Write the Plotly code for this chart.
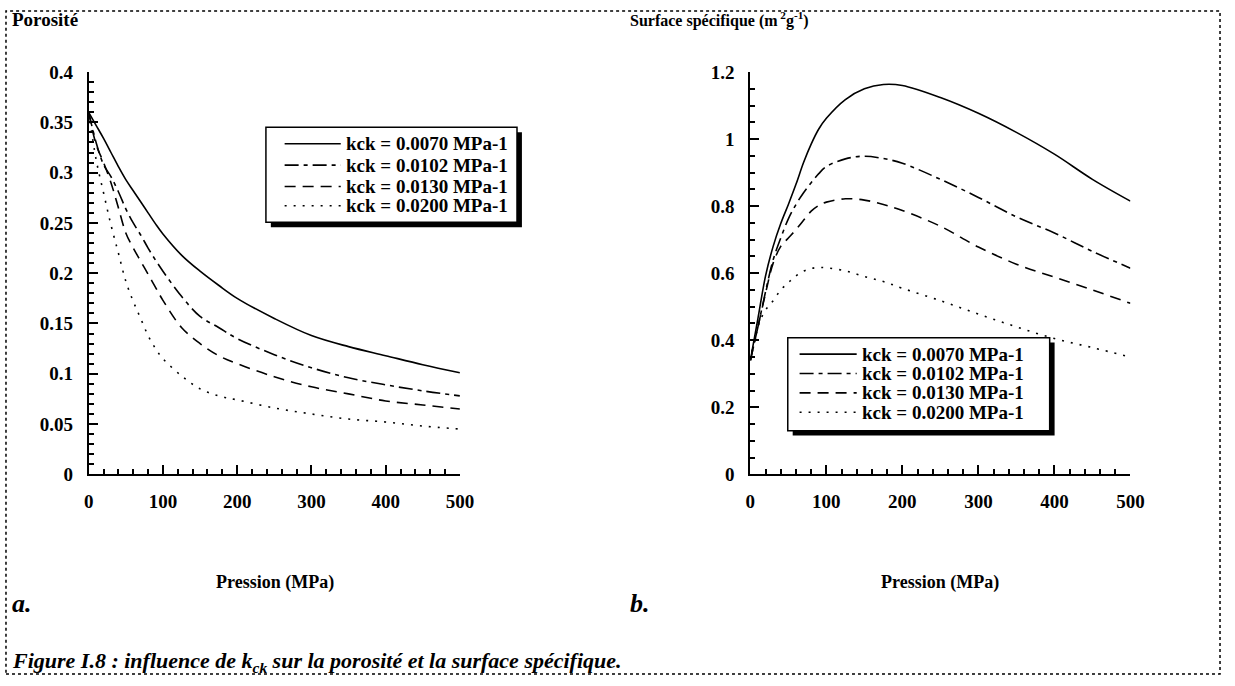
# Influence de kck sur la porosité et la surface spécifique (figure I.8)
import plotly.graph_objects as go

# ── DATA ────────────────────────────────────────────────────
pression = [0, 10, 20, 30, 40, 50, 60, 70, 80, 90, 100,
            125, 150, 175, 200, 250, 300, 350, 400, 450, 500]

kck_labels = ["kck = 0.0070 MPa-1", "kck = 0.0102 MPa-1",
              "kck = 0.0130 MPa-1", "kck = 0.0200 MPa-1"]

# porosité (fig. a)
poro_0070 = [0.360, 0.347, 0.334, 0.320, 0.306, 0.293, 0.282, 0.271, 0.260, 0.249, 0.239,
             0.218, 0.202, 0.188, 0.175, 0.155, 0.138, 0.127, 0.118, 0.109, 0.101]
poro_0102 = [0.360, 0.330, 0.308, 0.296, 0.281, 0.264, 0.250, 0.238, 0.225, 0.213, 0.202,
             0.177, 0.157, 0.146, 0.135, 0.119, 0.106, 0.096, 0.089, 0.083, 0.078]
poro_0130 = [0.360, 0.328, 0.310, 0.290, 0.265, 0.240, 0.225, 0.212, 0.199, 0.186, 0.173,
             0.146, 0.130, 0.118, 0.110, 0.097, 0.087, 0.080, 0.073, 0.069, 0.065]
poro_0200 = [0.360, 0.313, 0.280, 0.248, 0.220, 0.192, 0.172, 0.155, 0.138, 0.125, 0.115,
             0.098, 0.085, 0.078, 0.074, 0.066, 0.060, 0.055, 0.052, 0.048, 0.045]

# surface spécifique (fig. b)
surf_0070 = [0.340, 0.465, 0.592, 0.680, 0.748, 0.805, 0.865, 0.930, 0.985, 1.030, 1.062,
             1.118, 1.150, 1.163, 1.160, 1.124, 1.077, 1.020, 0.955, 0.880, 0.815]
surf_0102 = [0.340, 0.440, 0.545, 0.640, 0.705, 0.762, 0.805, 0.840, 0.870, 0.897, 0.918,
             0.941, 0.949, 0.942, 0.928, 0.880, 0.826, 0.768, 0.720, 0.665, 0.615]
surf_0130 = [0.340, 0.440, 0.540, 0.630, 0.680, 0.705, 0.730, 0.758, 0.785, 0.802, 0.812,
             0.822, 0.818, 0.805, 0.787, 0.740, 0.678, 0.627, 0.588, 0.550, 0.510]
surf_0200 = [0.340, 0.442, 0.490, 0.518, 0.550, 0.572, 0.592, 0.606, 0.614, 0.617, 0.616,
             0.607, 0.590, 0.575, 0.555, 0.518, 0.478, 0.440, 0.405, 0.378, 0.350]

# ── STYLE ───────────────────────────────────────────────────
W, H = 1235, 686
FONT = "Liberation Serif"
dashes = ["solid", "14px,5px,4px,5px", "11px,7px", "2px,7px"]

def px(x):  return x / W
def py(y):  return 1 - y / H

fig = go.Figure()

poro = [poro_0070, poro_0102, poro_0130, poro_0200]
surf = [surf_0070, surf_0102, surf_0130, surf_0200]

for i, lab in enumerate(kck_labels):
    fig.add_trace(go.Scatter(x=pression, y=poro[i], mode="lines", name=lab, showlegend=False,
                             line=dict(color="black", width=1.6, dash=dashes[i], shape="spline"),
                             xaxis="x", yaxis="y"))
for i, lab in enumerate(kck_labels):
    fig.add_trace(go.Scatter(x=pression, y=surf[i], mode="lines", name=lab, showlegend=False,
                             line=dict(color="black", width=1.6, dash=dashes[i], shape="spline"),
                             xaxis="x2", yaxis="y2"))

tickfont = dict(family=FONT, size=19, color="black", weight="bold")
common = dict(showline=True, linecolor="black", linewidth=2, showgrid=False, zeroline=False,
              ticks="inside", ticklen=9, tickwidth=2, tickcolor="black", tickfont=tickfont)

xa = dict(common, range=[0, 500], dtick=100, ticklabelstandoff=9,
          minor=dict(ticks="inside", dtick=20, ticklen=5, tickwidth=1.5, tickcolor="black"))

fig.update_layout(
    width=W, height=H,
    margin=dict(l=0, r=0, t=0, b=0),
    paper_bgcolor="white", plot_bgcolor="white",
    showlegend=False,
    xaxis=dict(xa, domain=[px(85), px(462)], anchor="y"),
    yaxis=dict(common, range=[0, 0.4], dtick=0.05, domain=[py(479), py(64)], anchor="x",
               ticklabelstandoff=10,
               minor=dict(ticks="inside", dtick=0.01, ticklen=5, tickwidth=1.5, tickcolor="black")),
    xaxis2=dict(xa, domain=[px(757), px(1143)], anchor="y2"),
    yaxis2=dict(common, range=[0, 1.2], dtick=0.2, domain=[py(479), py(64)], anchor="x2",
                ticklabelstandoff=10,
                minor=dict(ticks="inside", dtick=0.05, ticklen=5, tickwidth=1.5, tickcolor="black")),
)

def txt(x, y, s, size, italic=False, xanchor="left"):
    fig.add_annotation(x=px(x), y=py(y), xref="paper", yref="paper", text=s, showarrow=False,
                       xanchor=xanchor, yanchor="middle",
                       font=dict(family=FONT, size=size, color="black", weight="bold",
                                 style="italic" if italic else "normal"))

# legends drawn by hand: box with drop shadow, line keys, labels
shapes = []
def legend_box(x0, y0, x1, y1, rows, key_x0, key_x1, text_x):
    shapes.append(dict(type="rect", xref="paper", yref="paper",
                       x0=px(x0 + 5), x1=px(x1 + 5), y0=py(y1 + 5), y1=py(y0 + 5),
                       fillcolor="black", line=dict(width=0), layer="above"))
    shapes.append(dict(type="rect", xref="paper", yref="paper",
                       x0=px(x0), x1=px(x1), y0=py(y1), y1=py(y0),
                       fillcolor="white", line=dict(color="black", width=1.5), layer="above"))
    for i, ry in enumerate(rows):
        shapes.append(dict(type="line", xref="paper", yref="paper",
                           x0=px(key_x0), x1=px(key_x1), y0=py(ry), y1=py(ry),
                           line=dict(color="black", width=1.6, dash=dashes[i]), layer="above"))
        txt(text_x, ry, kck_labels[i], 19)

legend_box(265, 121, 520, 219, [138, 160, 182, 202], 284, 341, 344)
legend_box(795, 338, 1061, 434, [355, 375, 395, 415], 807, 865, 868)

# dotted frame round the whole figure
shapes.append(dict(type="rect", xref="paper", yref="paper", x0=px(1), x1=px(1234), y0=py(685), y1=py(1),
                   line=dict(color="black", width=1.5, dash="dot")))
fig.update_layout(shapes=shapes)

txt(5, 10, "Porosité", 19)
txt(633, 10, "Surface spécifique (m<sup> 2</sup>g<sup>-1</sup>)", 16)
txt(274, 591, "Pression (MPa)", 18, xanchor="center")
txt(950, 591, "Pression (MPa)", 18, xanchor="center")
txt(5, 612, "a.", 26, italic=True)
txt(633, 612, "b.", 26, italic=True)
txt(5, 673, "Figure I.8 : influence de k<sub>ck</sub> sur la porosité et la surface spécifique.", 22, italic=True)

fig.write_html("out.html", config={"displayModeBar": False},
               post_script="document.body.style.margin='0px';")
